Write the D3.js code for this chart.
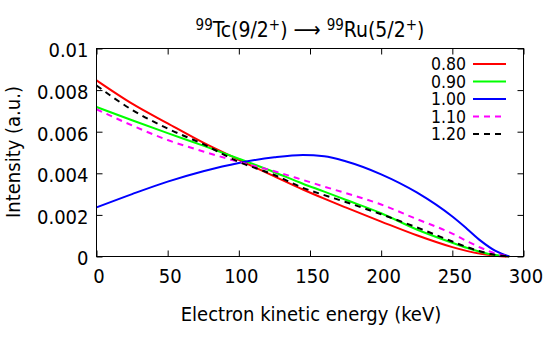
<!DOCTYPE html>
<html>
<head>
<meta charset="utf-8">
<script src="https://cdn.jsdelivr.net/npm/d3@7"></script>
<style>
html,body{margin:0;padding:0;background:#fff;}
svg{display:block;}
text{font-family:"DejaVu Sans Condensed","DejaVu Sans",sans-serif;fill:#000;}
</style>
</head>
<body>
<svg id="chart" width="544" height="337"></svg>
<script>
// ---- data ----
const energy = [0, 25, 50, 75, 100, 125, 145, 160, 175, 200, 225, 250, 260, 270, 280, 290];
const seriesNames = ["0.80", "0.90", "1.00", "1.10", "1.20"];
const s080 = [0.00847, 0.00735, 0.00640, 0.00547, 0.00465, 0.00385, 0.00322, 0.00278, 0.00236, 0.00168, 0.00102, 0.00045, 0.00027, 0.00013, 0.00004, 0];
const s090 = [0.00719, 0.00655, 0.00593, 0.00533, 0.00470, 0.00405, 0.00350, 0.00312, 0.00273, 0.00208, 0.00130, 0.00066, 0.00042, 0.00022, 0.00007, 0];
const s100 = [0.00236, 0.00300, 0.00360, 0.00410, 0.00450, 0.00477, 0.00488, 0.00482, 0.00458, 0.00395, 0.00308, 0.00192, 0.00135, 0.00075, 0.00028, 0];
const s110 = [0.00708, 0.00630, 0.00560, 0.00505, 0.00455, 0.00410, 0.00368, 0.00336, 0.00305, 0.00250, 0.00180, 0.00110, 0.00075, 0.00042, 0.00015, 0];
const s120 = [0.00822, 0.00705, 0.00615, 0.00540, 0.00455, 0.00392, 0.00330, 0.00295, 0.00262, 0.00203, 0.00140, 0.00072, 0.00046, 0.00024, 0.00008, 0];
const xTicks = [0, 50, 100, 150, 200, 250, 300];
const yTicks = [0, 0.002, 0.004, 0.006, 0.008, 0.01];
const yTickLabels = ["0", "0.002", "0.004", "0.006", "0.008", "0.01"];

const seriesValues = [s080, s090, s100, s110, s120];
const colors = ["#ff0000", "#00ff00", "#0000ff", "#ff00ff", "#000000"];
const dashes = [null, null, null, "6,5", "6,5"];

// ---- layout ----
const L = 96.5, R = 523.5, T = 48.5, B = 256.5;
const svg = d3.select("#chart");
const x = d3.scaleLinear().domain([0, 300]).range([L, R]);
const y = d3.scaleLinear().domain([0, 0.01]).range([B, T]);

const fs = 20;

// curves
const plot = svg.append("g");
const line = d3.line().x(d => x(d[0])).y(d => y(d[1])).curve(d3.curveMonotoneX);
seriesValues.forEach((vals, i) => {
  const pts = energy.map((e, j) => [e, vals[j]]);
  plot.append("path")
    .attr("d", line(pts))
    .attr("fill", "none")
    .attr("stroke", colors[i])
    .attr("stroke-width", 2)
    .attr("stroke-dasharray", dashes[i]);
});

// axes with inward ticks on all sides
const tk = 6;
const gB = svg.append("g").attr("transform", `translate(0,${B})`)
  .call(d3.axisBottom(x).tickValues(xTicks).tickSizeInner(-tk).tickSizeOuter(0).tickPadding(12));
const gT = svg.append("g").attr("transform", `translate(0,${T})`)
  .call(d3.axisTop(x).tickValues(xTicks).tickSizeInner(-tk).tickSizeOuter(0).tickFormat(""));
const gL = svg.append("g").attr("transform", `translate(${L},0)`)
  .call(d3.axisLeft(y).tickValues(yTicks).tickSizeInner(-tk).tickSizeOuter(0).tickPadding(8)
    .tickFormat((d, i) => yTickLabels[i]));
const gR = svg.append("g").attr("transform", `translate(${R},0)`)
  .call(d3.axisRight(y).tickValues(yTicks).tickSizeInner(-tk).tickSizeOuter(0).tickFormat(""));
[gB, gT, gL, gR].forEach(g => {
  g.select(".domain").remove();
  g.selectAll("line").attr("stroke", "#000").attr("stroke-width", 1);
  g.selectAll("text").style("font-family", null).attr("font-size", fs).attr("fill", "#000");
});
gB.selectAll("text").attr("dx", 2);
gL.selectAll("text").attr("dy", "0.42em");

// frame
svg.append("rect").attr("x", L).attr("y", T).attr("width", R - L).attr("height", B - T)
  .attr("fill", "none").attr("stroke", "#000").attr("stroke-width", 1);

// legend
const lg = svg.append("g");
seriesNames.forEach((n, i) => {
  const yy = 64 + i * 17.5;
  lg.append("text").attr("x", 466).attr("y", yy).attr("dy", "0.36em")
    .attr("text-anchor", "end").attr("font-size", 17.5).text(n);
  lg.append("line").attr("x1", 473).attr("x2", 506).attr("y1", yy).attr("y2", yy)
    .attr("stroke", colors[i]).attr("stroke-width", 2).attr("stroke-dasharray", dashes[i]);
});

// title
const title = svg.append("text").attr("x", 310).attr("y", 37).attr("text-anchor", "middle").attr("font-size", 21);
title.append("tspan").attr("font-size", 15).attr("dy", -7).text("99");
title.append("tspan").attr("dy", 7).text("Tc(9/2");
title.append("tspan").attr("font-size", 15).attr("dy", -7).text("+");
title.append("tspan").attr("dy", 7).text(") \u27F6 ");
title.append("tspan").attr("font-size", 15).attr("dy", -7).text("99");
title.append("tspan").attr("dy", 7).text("Ru(5/2");
title.append("tspan").attr("font-size", 15).attr("dy", -7).text("+");
title.append("tspan").attr("dy", 7).text(")");

// axis labels
svg.append("text").attr("x", 311).attr("y", 321).attr("text-anchor", "middle")
  .attr("font-size", fs).text("Electron kinetic energy (keV)");
svg.append("text").attr("transform", "translate(20,152) rotate(-90)").attr("text-anchor", "middle")
  .attr("font-size", fs).text("Intensity (a.u.)");
</script>
</body>
</html>
